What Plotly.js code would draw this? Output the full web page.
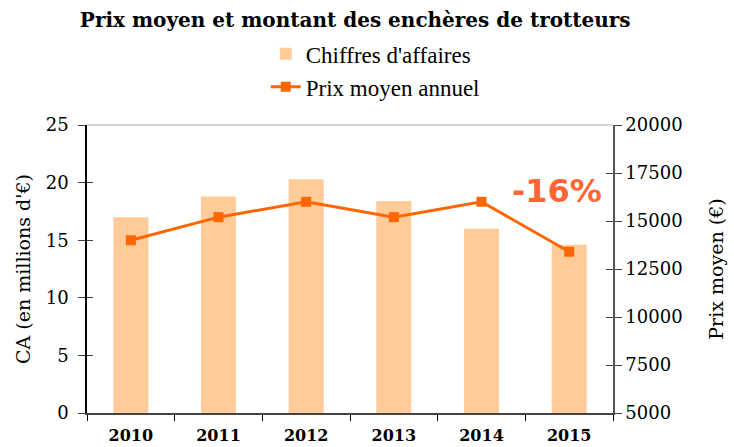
<!DOCTYPE html>
<html><head><meta charset="utf-8">
<script src="https://cdn.plot.ly/plotly-3.0.1.min.js"></script>
<style>html,body{margin:0;padding:0;background:#fff}#chart{width:734px;height:447px}</style>
</head><body><div id="chart"></div>
<script>
const years = ["2010","2011","2012","2013","2014","2015"];
const chiffresAffaires = [17.0, 18.8, 20.3, 18.4, 16.0, 14.6];
const prixMoyen = [14000, 15200, 16000, 15200, 16000, 13400];
const leftTicks = [0,5,10,15,20,25];
const rightTicks = [5000,7500,10000,12500,15000,17500,20000];

const serif = "DejaVu Serif";
const traces = [
  {type:'bar', x:years, y:chiffresAffaires, name:"Chiffres d'affaires",
   marker:{color:'#ffcc99'}, yaxis:'y', xaxis:'x'},
  {type:'scatter', mode:'lines+markers', x:years, y:prixMoyen, name:'Prix moyen annuel',
   line:{color:'#ff6600', width:3}, marker:{symbol:'square', size:10, color:'#ff6600'}, yaxis:'y2', xaxis:'x'},
  // invisible helpers so that the inner tick marks (ticks crossing the axes) are drawn
  {type:'scatter', mode:'markers', x:years, y:chiffresAffaires, yaxis:'y3', xaxis:'x',
   marker:{opacity:0}, showlegend:false, hoverinfo:'skip'},
  {type:'scatter', mode:'markers', x:years, y:prixMoyen, yaxis:'y4', xaxis:'x',
   marker:{opacity:0}, showlegend:false, hoverinfo:'skip'}
];
const layout = {
  width:734, height:447,
  margin:{l:87, r:121, t:125, b:34},
  paper_bgcolor:'#fff', plot_bgcolor:'#fff',
  bargap:0.6,
  showlegend:true,
  title:{text:"<b>Prix moyen et montant des enchères de trotteurs</b>", x:0.484, xanchor:'center', y:0.955, yanchor:'middle',
         font:{family:serif, size:20, color:'#000'}},
  legend:{x:0.548, xanchor:'center', y:1.19, yanchor:'middle', orientation:'v',
          font:{family:"Liberation Serif", size:23, color:'#000'}, tracegroupgap:0},
  xaxis:{type:'category', range:[-0.5,5.5], showline:true, linecolor:'#444', linewidth:1.5, ticks:'outside', tickson:'boundaries',
         ticklen:6, tickcolor:'#000', tickwidth:1, tickangle:0, ticklabelstandoff:7,
         tickfont:{family:serif, size:16, color:'#000', weight:'bold'}, showgrid:false},
  yaxis:{range:[0,25], tickvals:leftTicks, showline:true, linecolor:'#000', linewidth:1.5, ticks:'outside', ticklen:7,
         tickcolor:'#444', showgrid:false, zeroline:false, ticklabelstandoff:6,
         tickfont:{family:serif, size:18, color:'#000'},
         title:{text:"CA (en millions d'€)", font:{family:serif, size:19, color:'#000'}, standoff:10}},
  yaxis2:{range:[5000,20000], tickvals:rightTicks, tickformat:'d', overlaying:'y', side:'right', showline:true, linecolor:'#555',
          linewidth:1.5, ticks:'outside', ticklen:7, tickcolor:'#444', showgrid:false, zeroline:false,
          tickfont:{family:serif, size:18, color:'#000'},
          title:{text:"Prix moyen (€)", font:{family:serif, size:19, color:'#000'}, standoff:28}},
  yaxis3:{range:[0,25], tickvals:leftTicks, overlaying:'y', side:'left', showline:false, ticks:'inside', ticklen:6,
          tickcolor:'#444', showticklabels:false, showgrid:false, zeroline:false},
  yaxis4:{range:[5000,20000], tickvals:rightTicks, overlaying:'y', side:'right', showline:false, ticks:'inside', ticklen:7,
          tickcolor:'#444', showticklabels:false, showgrid:false, zeroline:false},
  shapes:[{type:'line', xref:'paper', yref:'paper', x0:0, x1:1, y0:1, y1:1, line:{color:'#aaa', width:1}}],
  annotations:[{x:0.893, y:0.771, xref:'paper', yref:'paper', text:'<b>-16%</b>', showarrow:false,
                xanchor:'center', yanchor:'middle',
                font:{family:'DejaVu Sans', size:32, color:'#ff6633'}}]
};
Plotly.newPlot('chart', traces, layout, {displayModeBar:false});
</script></body></html>
